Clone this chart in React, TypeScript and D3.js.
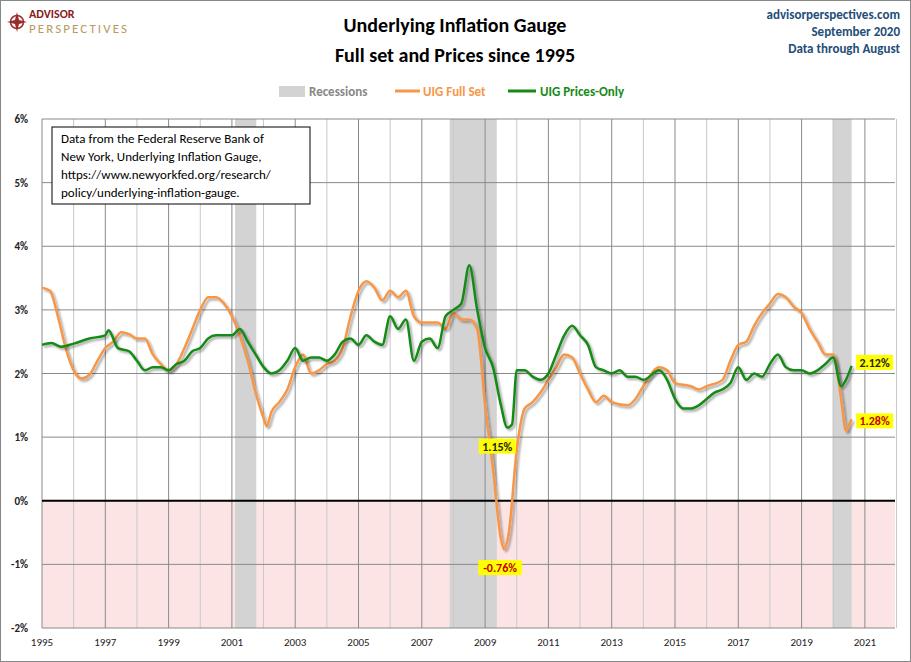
import React from "react";
import * as d3 from "d3";

const fullSet: [number, number][] = [
[1995.0,3.35],[1995.25,3.3],[1995.5,2.9],[1995.75,2.4],[1996.0,2.05],[1996.25,1.92],[1996.5,1.98],[1996.75,2.2],[1997.0,2.4],[1997.25,2.5],[1997.5,2.65],[1997.75,2.62],[1998.0,2.55],[1998.25,2.55],[1998.5,2.3],[1998.75,2.15],[1999.0,2.05],[1999.25,2.15],[1999.5,2.4],[1999.75,2.7],[2000.0,3.0],[2000.25,3.2],[2000.5,3.2],[2000.75,3.1],[2001.0,2.9],[2001.25,2.6],[2001.5,2.2],[2001.75,1.7],[2002.0,1.3],[2002.1,1.17],[2002.25,1.4],[2002.5,1.55],[2002.75,1.75],[2003.0,2.1],[2003.25,2.3],[2003.5,2.0],[2003.75,2.05],[2004.0,2.15],[2004.25,2.2],[2004.5,2.4],[2004.75,2.9],[2005.0,3.3],[2005.25,3.45],[2005.5,3.35],[2005.75,3.15],[2006.0,3.3],[2006.25,3.2],[2006.5,3.3],[2006.75,2.9],[2007.0,2.8],[2007.5,2.8],[2007.75,2.7],[2008.0,2.95],[2008.25,2.85],[2008.5,2.85],[2008.75,2.7],[2009.0,1.5],[2009.25,0.5],[2009.5,-0.6],[2009.6,-0.76],[2009.75,-0.5],[2010.0,0.8],[2010.25,1.45],[2010.5,1.55],[2010.75,1.7],[2011.0,1.9],[2011.25,2.1],[2011.5,2.3],[2011.75,2.25],[2012.0,2.0],[2012.25,1.75],[2012.5,1.55],[2012.75,1.65],[2013.0,1.55],[2013.5,1.5],[2013.75,1.6],[2014.0,1.8],[2014.5,2.1],[2014.75,2.05],[2015.0,1.85],[2015.5,1.8],[2015.75,1.75],[2016.0,1.8],[2016.5,1.9],[2016.75,2.2],[2017.0,2.45],[2017.25,2.5],[2017.5,2.75],[2017.75,2.95],[2018.0,3.1],[2018.25,3.25],[2018.5,3.2],[2018.75,3.05],[2019.0,2.95],[2019.25,2.7],[2019.5,2.5],[2019.75,2.3],[2020.0,2.3],[2020.25,1.6],[2020.4,1.1],[2020.5,1.2],[2020.58,1.28]];

const pricesOnly: [number, number][] = [
[1995.0,2.45],[1995.3,2.48],[1995.6,2.42],[1996.0,2.47],[1996.5,2.55],[1997.0,2.6],[1997.1,2.68],[1997.4,2.4],[1997.75,2.35],[1998.0,2.2],[1998.25,2.05],[1998.5,2.1],[1998.75,2.1],[1999.0,2.05],[1999.25,2.15],[1999.5,2.2],[1999.75,2.35],[2000.0,2.4],[2000.25,2.55],[2000.5,2.6],[2000.75,2.6],[2001.0,2.6],[2001.25,2.7],[2001.5,2.5],[2001.75,2.3],[2002.0,2.1],[2002.25,2.0],[2002.5,2.05],[2002.75,2.2],[2003.0,2.4],[2003.25,2.2],[2003.5,2.25],[2003.75,2.25],[2004.0,2.2],[2004.25,2.3],[2004.5,2.5],[2004.75,2.55],[2005.0,2.45],[2005.25,2.6],[2005.5,2.5],[2005.75,2.45],[2006.0,2.9],[2006.25,2.7],[2006.5,2.85],[2006.75,2.2],[2007.0,2.5],[2007.25,2.55],[2007.5,2.4],[2007.75,2.9],[2008.0,3.0],[2008.25,3.1],[2008.5,3.7],[2008.75,3.0],[2009.0,2.4],[2009.25,2.1],[2009.5,1.5],[2009.7,1.15],[2009.85,1.2],[2010.0,2.05],[2010.25,2.05],[2010.5,1.95],[2010.75,1.9],[2011.0,2.0],[2011.25,2.3],[2011.5,2.6],[2011.75,2.75],[2012.0,2.6],[2012.25,2.45],[2012.5,2.1],[2012.75,2.05],[2013.0,2.0],[2013.25,2.05],[2013.5,1.95],[2013.75,1.95],[2014.0,1.9],[2014.5,2.05],[2014.75,1.9],[2015.0,1.6],[2015.25,1.45],[2015.5,1.45],[2015.75,1.5],[2016.0,1.6],[2016.25,1.7],[2016.5,1.75],[2016.75,1.85],[2017.0,2.1],[2017.25,1.9],[2017.5,2.0],[2017.75,1.95],[2018.0,2.15],[2018.25,2.3],[2018.5,2.1],[2018.75,2.05],[2019.0,2.05],[2019.25,2.0],[2019.5,2.05],[2019.75,2.15],[2020.0,2.25],[2020.25,1.8],[2020.4,1.9],[2020.58,2.12]];

const recessions: [number, number][] = [[2001.1, 2001.77], [2007.88, 2009.37], [2019.98, 2020.58]];
const yTicks = [-2, -1, 0, 1, 2, 3, 4, 5, 6];
const xLabelYears = d3.range(1995, 2022, 2);
const xGridYears = d3.range(1995, 2023, 1);
const callouts = [
  { x: 2009.7, v: 1.15, text: "1.15%", dx: -10, dy: 19, color: "#222" },
  { x: 2009.6, v: -0.76, text: "-0.76%", dx: -4, dy: 19, color: "#C00000" },
  { x: 2020.58, v: 2.12, text: "2.12%", dx: 23, dy: -3, color: "#222" },
  { x: 2020.58, v: 1.28, text: "1.28%", dx: 23, dy: 2, color: "#C00000" },
];

const ORANGE = "#F79646";
const GREEN = "#168A16";
const FONT = "Calibri, 'Liberation Sans Narrow', 'Open Sans', Arial, sans-serif";

export default function App() {
  const W = 911, H = 662;
  const L = 42, R = 895, T = 119, B = 628;
  const x = d3.scaleLinear().domain([1995, 1995 + (R - L) / 31.65]).range([L, R]);
  const y = d3.scaleLinear().domain([-2, 6]).range([B, T]);
  const line = d3.line<[number, number]>().x(d => x(d[0])).y(d => y(d[1])).curve(d3.curveMonotoneX);
  return (
    <svg width={W} height={H} style={{ position: "absolute", left: 0, top: 0, fontFamily: FONT }}>
      <defs>
        <filter id="sh" x="-5%" y="-5%" width="110%" height="110%">
          <feDropShadow dx="2" dy="2" stdDeviation="1.2" floodColor="#000" floodOpacity="0.35" />
        </filter>
        <clipPath id="clip"><rect x={L} y={T} width={R - L} height={B - T} /></clipPath>
      </defs>
      <rect x={0.5} y={0.5} width={W - 1} height={H - 1} fill="#fff" stroke="#888" />
      <rect x={L} y={y(0)} width={R - L} height={B - y(0)} fill="#FDE4E4" />
      {recessions.map((r, i) => (
        <rect key={i} x={x(r[0])} y={T} width={x(r[1]) - x(r[0])} height={B - T} fill="#D3D3D3" />
      ))}
      {xGridYears.map(yr => (
        <line key={yr} x1={x(yr)} x2={x(yr)} y1={T} y2={B} stroke={yr % 2 === 1 ? "#8A8A8A" : "#C8C8C8"} strokeWidth={1} />
      ))}
      {yTicks.map(t => (
        <g key={t}>
          <line x1={L} x2={R} y1={y(t)} y2={y(t)} stroke={t === 0 ? "#000" : "#8A8A8A"} strokeWidth={t === 0 ? 2 : 1} />
          <text x={L - 14} y={y(t) + 4} textAnchor="end" fontSize={11} fontWeight="bold" fill="#222">{t}%</text>
        </g>
      ))}
      {xLabelYears.map(yr => (
        <text key={yr} x={x(yr)} y={B + 18} textAnchor="middle" fontSize={11} fill="#222">{yr}</text>
      ))}
      <g clipPath="url(#clip)">
        <path d={line(fullSet) || ""} fill="none" stroke={ORANGE} strokeWidth={2.5} filter="url(#sh)" />
        <path d={line(pricesOnly) || ""} fill="none" stroke={GREEN} strokeWidth={2.5} filter="url(#sh)" />
      </g>
      {callouts.map((c, i) => {
        const cx = x(c.x) + c.dx, cy = y(c.v) + c.dy;
        const w = c.text.length * 6.6 + 4;
        return (
          <g key={i}>
            <rect x={cx - w / 2} y={cy - 8} width={w} height={15} fill="#FFFF00" />
            <text x={cx} y={cy + 4} textAnchor="middle" fontSize={12} fontWeight="bold" fill={c.color}>{c.text}</text>
          </g>
        );
      })}
      <rect x={52} y={127} width={258} height={77} fill="#fff" stroke="#000" strokeWidth={1} />
      {["Data from the Federal Reserve Bank of", "New York, Underlying Inflation Gauge,", "https://www.newyorkfed.org/research/", "policy/underlying-inflation-gauge."].map((s, i) => (
        <text key={i} x={61} y={143 + i * 18} fontSize={13} fill="#000">{s}</text>
      ))}
      <text x={455} y={32} textAnchor="middle" fontSize={20} fontWeight="bold" fill="#000">Underlying Inflation Gauge</text>
      <text x={455} y={62} textAnchor="middle" fontSize={20} fontWeight="bold" fill="#000">Full set and Prices since 1995</text>
      <text x={900} y={19} textAnchor="end" fontSize={13} fontWeight="bold" fill="#1F4E79">advisorperspectives.com</text>
      <text x={900} y={36} textAnchor="end" fontSize={13} fontWeight="bold" fill="#1F4E79">September 2020</text>
      <text x={900} y={53} textAnchor="end" fontSize={13} fontWeight="bold" fill="#1F4E79">Data through August</text>
      <g>
        <circle cx={17} cy={22} r={6.5} fill="none" stroke="#9B2C2C" strokeWidth={1.5} />
        <path d="M17 12 L19 20 L27 22 L19 24 L17 32 L15 24 L7 22 L15 20 Z" fill="#9B2C2C" />
        <text x={29} y={18} fontSize={12} fontWeight="bold" fill="#8B1A1A">ADVISOR</text>
        <text x={29} y={33} fontSize={13} fill="#B89A5A" textLength={98}>PERSPECTIVES</text>
      </g>
      <rect x={279} y={86} width={26} height={11} fill="#D3D3D3" />
      <text x={309} y={96} fontSize={13} fontWeight="bold" fill="#888">Recessions</text>
      <line x1={395} x2={420} y1={91} y2={91} stroke={ORANGE} strokeWidth={3} />
      <text x={423} y={96} fontSize={13} fontWeight="bold" fill={ORANGE}>UIG Full Set</text>
      <line x1={508} x2={536} y1={91} y2={91} stroke={GREEN} strokeWidth={3} />
      <text x={540} y={96} fontSize={13} fontWeight="bold" fill={GREEN}>UIG Prices-Only</text>
    </svg>
  );
}
